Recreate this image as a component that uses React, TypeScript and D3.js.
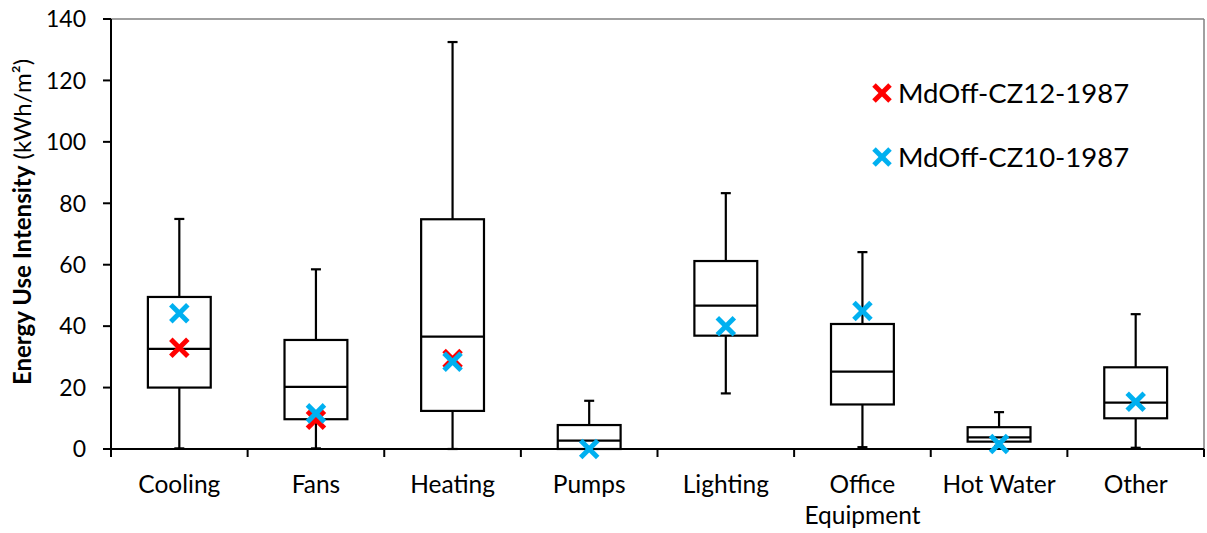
import React from 'react';
import * as d3 from 'd3';

const categories = ['Cooling', 'Fans', 'Heating', 'Pumps', 'Lighting', 'Office Equipment', 'Hot Water', 'Other'];
const whiskerLow = [0.2, 0.2, 0, 0, 18.1, 0.6, 1, 0.4];
const q1 = [20, 9.7, 12.4, 0, 36.9, 14.5, 2.4, 10];
const median = [32.6, 20.2, 36.6, 2.7, 46.7, 25.2, 3.8, 15.1];
const q3 = [49.5, 35.5, 74.8, 7.8, 61.2, 40.7, 7.1, 26.6];
const whiskerHigh = [74.9, 58.5, 132.5, 15.7, 83.3, 64.1, 12, 43.9];
const cz12 = [33, 9.5, 29.3, null, null, null, null, null];
const cz10 = [44.2, 11.6, 28.4, 0, 40, 44.9, 1.6, 15.4];
const yTicks = [0, 20, 40, 60, 80, 100, 120, 140];

const seriesNames = ['MdOff-CZ12-1987', 'MdOff-CZ10-1987'];
const seriesColors = ['#FF0000', '#00B0F0'];

const W = 1207;
const H = 533;
const margin = { left: 111, right: 3, top: 19, bottom: 84 };
const FONT = 'Lato, "Open Sans", sans-serif';

const Cross: React.FC<{ x: number; y: number; color: string; r?: number }> = ({ x, y, color, r = 8.5 }) => (
	<g stroke={color} strokeWidth={5}>
		<line x1={x - r} y1={y - r} x2={x + r} y2={y + r} />
		<line x1={x - r} y1={y + r} x2={x + r} y2={y - r} />
	</g>
);

const App: React.FC = () => {
	const x = d3
		.scaleBand<string>()
		.domain(categories)
		.range([margin.left, W - margin.right]);
	const y = d3
		.scaleLinear()
		.domain([0, 140])
		.range([H - margin.bottom, margin.top]);

	const bw = x.bandwidth();
	const boxW = bw * 0.46;
	const capW = 10;
	const x0 = margin.left;
	const x1 = W - margin.right;
	const y0 = y(0);
	const yTop = y(140);

	return (
		<svg width={W} height={H} style={{ position: 'absolute', left: 0, top: 0, background: '#fff' }} fontFamily={FONT}>
			{/* frame */}
			<line x1={x0} y1={yTop} x2={x1} y2={yTop} stroke="#808080" strokeWidth={1.5} />
			<line x1={x1} y1={yTop} x2={x1} y2={y0} stroke="#808080" strokeWidth={1.5} />

			{/* boxes */}
			{categories.map((c, i) => {
				const cx = x(c)! + bw / 2;
				return (
					<g key={c} stroke="#000" strokeWidth={2.2} fill="none">
						<line x1={cx} x2={cx} y1={y(whiskerHigh[i])} y2={y(q3[i])} />
						<line x1={cx} x2={cx} y1={y(q1[i])} y2={y(whiskerLow[i])} />
						<line x1={cx - capW / 2} x2={cx + capW / 2} y1={y(whiskerHigh[i])} y2={y(whiskerHigh[i])} />
						<line x1={cx - capW / 2} x2={cx + capW / 2} y1={y(whiskerLow[i])} y2={y(whiskerLow[i])} />
						<rect x={cx - boxW / 2} y={y(q3[i])} width={boxW} height={y(q1[i]) - y(q3[i])} fill="#fff" />
						<line x1={cx - boxW / 2} x2={cx + boxW / 2} y1={y(median[i])} y2={y(median[i])} />
					</g>
				);
			})}

			{/* axes */}
			<line x1={x0} y1={yTop} x2={x0} y2={y0} stroke="#000" strokeWidth={2} />
			<line x1={x0} y1={y0} x2={x1} y2={y0} stroke="#000" strokeWidth={2} />
			{yTicks.map((t) => (
				<g key={t}>
					<line x1={x0 - 8} x2={x0} y1={y(t)} y2={y(t)} stroke="#000" strokeWidth={2} />
					<text x={x0 - 25} y={y(t)} dy="0.36em" textAnchor="end" fontSize={23} fill="#000">
						{t}
					</text>
				</g>
			))}
			{categories.map((c) => (
				<line key={c} x1={x(c)!} x2={x(c)!} y1={y0} y2={y0 + 8} stroke="#000" strokeWidth={2} />
			))}
			<line x1={x1} x2={x1} y1={y0} y2={y0 + 8} stroke="#000" strokeWidth={2} />
			{categories.map((c) => {
				const cx = x(c)! + bw / 2;
				const parts = c === 'Office Equipment' ? ['Office', 'Equipment'] : [c];
				return (
					<text key={c} x={cx} y={493} textAnchor="middle" fontSize={24.5} fill="#000">
						{parts.map((p, j) => (
							<tspan key={p} x={cx} dy={j === 0 ? 0 : 31}>
								{p}
							</tspan>
						))}
					</text>
				);
			})}

			{/* axis title */}
			<text transform="translate(31,222) rotate(-90)" textAnchor="middle" fontSize={24} fill="#000">
				<tspan fontWeight="bold">Energy Use Intensity</tspan>
				<tspan> (kWh/m²)</tspan>
			</text>

			{/* markers */}
			{[cz12, cz10].map((s, k) =>
				s.map((v, i) =>
					v == null ? null : (
						<Cross key={`${k}-${i}`} x={x(categories[i])! + bw / 2} y={y(v)} color={seriesColors[k]} />
					),
				),
			)}

			{/* legend */}
			{seriesNames.map((n, k) => (
				<g key={n}>
					<Cross x={882} y={93 + k * 64} color={seriesColors[k]} r={8} />
					<text x={898} y={93 + k * 64} dy="0.36em" fontSize={27.5} fill="#000">
						{n}
					</text>
				</g>
			))}
		</svg>
	);
};

export default App;
